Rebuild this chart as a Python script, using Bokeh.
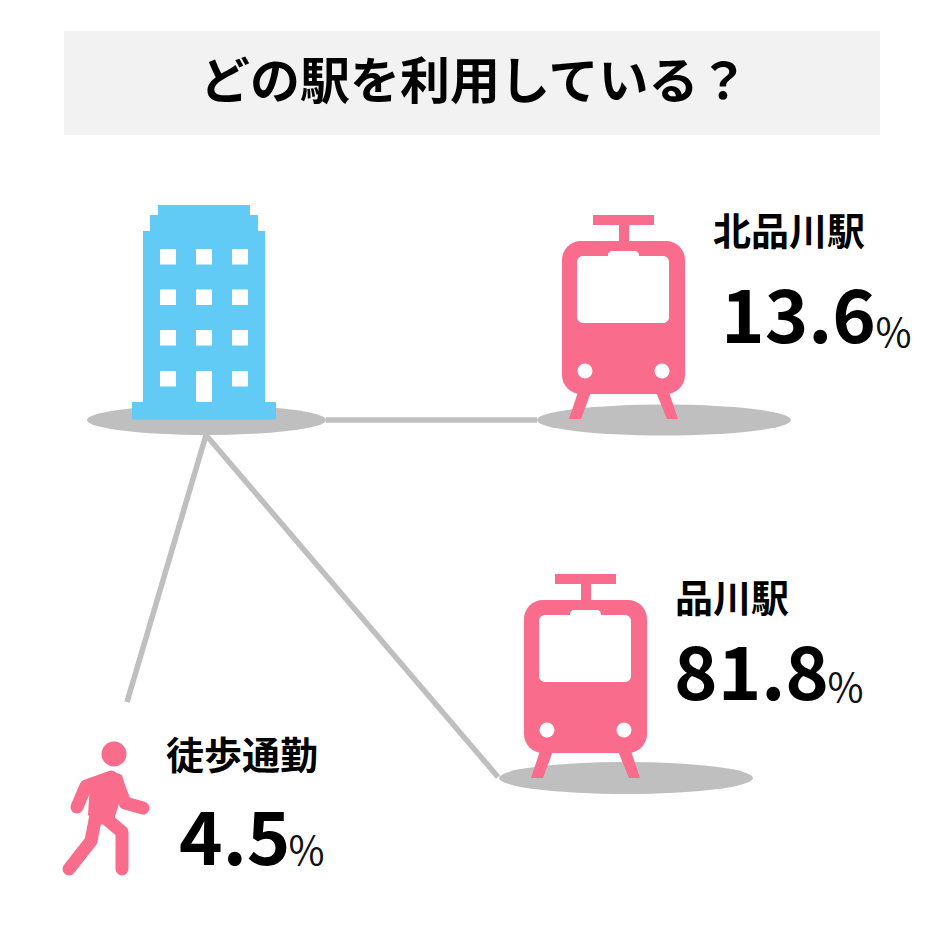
import math
from bokeh.plotting import figure
from bokeh.embed import file_html
from bokeh.resources import INLINE
from bokeh.core.properties import value
from bokeh.models import Range1d

TITLE = "どの駅を利用している？"
stations = ["北品川駅", "品川駅", "徒歩通勤"]
shares = ["13.6", "81.8", "4.5"]
PCT = "％"
label_xy = [(713, 228), (675, 595), (166, 752)]
num_xy = [(721, 315), (674, 672), (179, 837)]
pct_xy = [(874, 330), (826, 685), (287, 848)]

BLUE = "#61caf5"
PINK = "#f96c8b"
GREY = "#bfbfbf"
FONT = value("Noto Sans CJK JP")

p = figure(width=929, height=929, output_backend="svg", toolbar_location=None,
           x_range=Range1d(0.5, 929.5), y_range=Range1d(929.5, 0.5), min_border=0,
           outline_line_color=None, background_fill_color="white")
p.axis.visible = False
p.grid.visible = False


def rect(x0, x1, y0, y1, color):
    p.quad(left=x0, right=x1, top=y0, bottom=y1, fill_color=color, line_color=None)


rect(64, 880, 31, 135, "#f2f2f2")

# ground shadows and links
for cx, cy, w, h in [(206.5, 420, 239, 30), (664, 420, 254, 31), (626, 778, 254, 32)]:
    p.ellipse(x=cx, y=cy, width=w, height=h, fill_color=GREY, line_color=None)
p.segment(x0=[326, 206, 206], y0=[420, 435, 435], x1=[537, 127, 498], y1=[420, 702, 777],
          line_color=GREY, line_width=5.5)

# building
rect(158, 250, 205, 216, BLUE)
rect(150, 258, 215, 232, BLUE)
rect(143, 265, 231, 403, BLUE)
rect(132, 276, 402, 419.5, BLUE)
for wy in [249, 289.5, 330, 371]:
    for wx in [160, 196, 232]:
        rect(wx, wx + 16, wy, wy + 15.5, "white")
rect(196, 212, 371, 402, "white")


def rrect_path(x0, x1, y0, y1, r):
    xs, ys = [], []
    for cx, cy, a0 in [(x1 - r, y0 + r, -90), (x1 - r, y1 - r, 0), (x0 + r, y1 - r, 90), (x0 + r, y0 + r, 180)]:
        for k in range(9):
            a = math.radians(a0 + k * 90 / 8)
            xs.append(cx + r * math.cos(a))
            ys.append(cy + r * math.sin(a))
    return xs, ys


def train(ox, oy):
    rect(ox + 593, ox + 654, oy + 215, oy + 225, PINK)
    rect(ox + 619, ox + 629, oy + 225, oy + 242, PINK)
    for leg in [([578, 591, 581, 569], [392, 392, 419, 419]), ([656, 669, 678, 667], [392, 392, 419, 419])]:
        p.patch([ox + v for v in leg[0]], [oy + v for v in leg[1]], fill_color=PINK, line_color=None)
    xs, ys = rrect_path(ox + 562, ox + 685, oy + 241, oy + 394, 19)
    p.patch(xs, ys, fill_color=PINK, line_color=None)
    xs, ys = rrect_path(ox + 577, ox + 669, oy + 256, oy + 323, 6)
    p.patch(xs, ys, fill_color="white", line_color=None)
    xs, ys = rrect_path(ox + 608, ox + 639, oy + 251, oy + 262, 4)
    p.patch(xs, ys, fill_color="white", line_color=None)
    p.scatter(x=[ox + 585, ox + 662], y=[oy + 371, oy + 371], size=15, fill_color="white", line_color=None)


train(0, 0)
train(-38, 359)

# walker
p.scatter(x=[114], y=[754], size=25, fill_color=PINK, line_color=None)
p.multi_line(xs=[[77, 86, 111], [117, 125, 143], [96, 91, 69], [103, 122, 122]],
             ys=[[807, 786, 777], [782, 803, 808], [815, 841, 869], [816, 832, 869]],
             line_color=PINK, line_width=13, line_cap="round", line_join="round")
p.patch([90, 112, 122, 126, 120, 114, 98, 88],
        [782, 771, 775, 790, 800, 820, 826, 815], fill_color=PINK, line_color=None)

# texts
p.text(x=[200], y=[77], text=[TITLE], text_font=FONT, text_font_size="50px", text_font_style="bold",
       text_color="black", text_baseline="middle", text_align="left")
for (lx, ly), (nx, ny), (qx, qy), s, v in zip(label_xy, num_xy, pct_xy, stations, shares):
    p.text(x=[lx], y=[ly], text=[s], text_font=FONT, text_font_size="38px", text_font_style="bold",
           text_color="black", text_baseline="middle", text_align="left")
    p.text(x=[nx], y=[ny], text=[v], text_font=FONT, text_font_size="74px", text_font_style="bold",
           text_color="black", text_baseline="middle", text_align="left")
    p.text(x=[qx], y=[qy], text=[PCT], text_font=FONT, text_font_size="39px", text_font_style="normal",
           text_color="#111111", text_baseline="middle", text_align="left")

open("out.html", "w").write(file_html(p, INLINE))
